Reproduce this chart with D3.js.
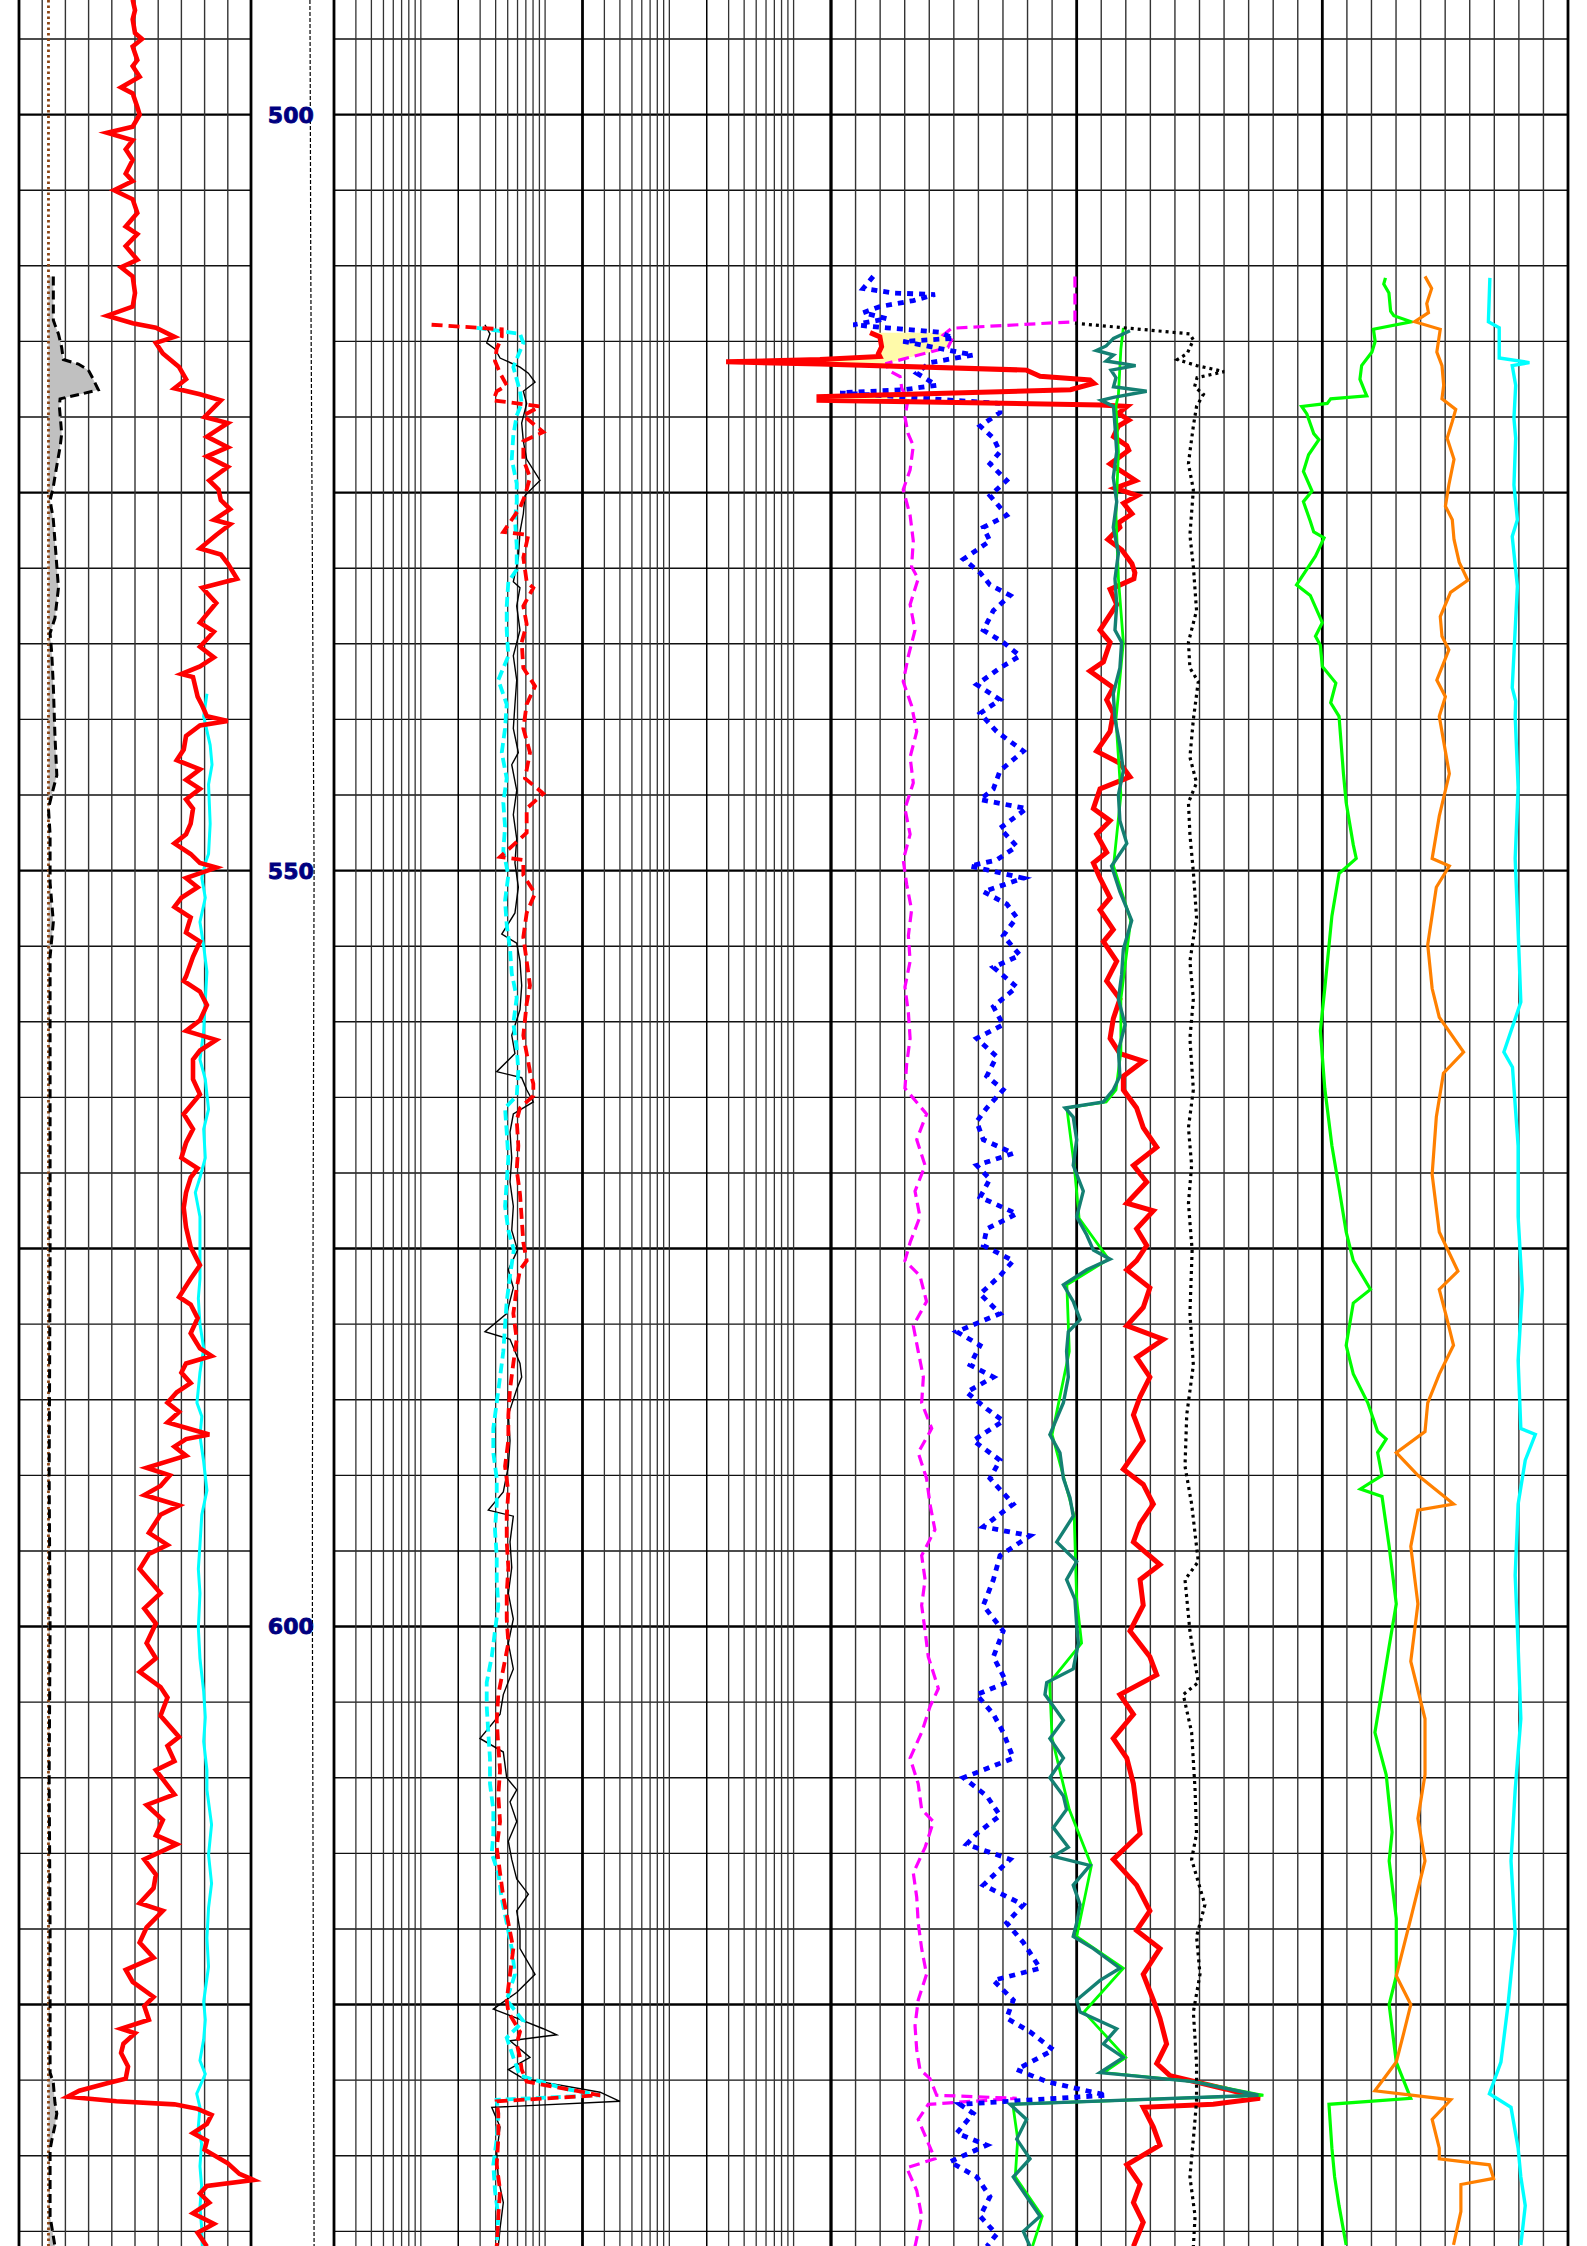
<!DOCTYPE html>
<html>
<head>
<meta charset="utf-8">
<script src="https://cdn.jsdelivr.net/npm/d3@7/dist/d3.min.js"></script>
<style>
  body { margin: 0; background: #fff; }
  svg { display: block; }
</style>
</head>
<body>
<div class="canvas"></div>
<script>
// depth window of the picture and the labelled depths
const depthRange = [492.42, 640.97];
const depthLabels = [500, 550, 600];

// track 1 : [depth, value] on 0-100
const bitCurve = [[492.42, 12.7], [640.97, 12.7]];
const calCurve = [[510.7,14.8],[513.6,14.8],[513.9,15.5],[514.5,17],[515.4,18.4],[516.2,19.1],[516.5,25.6],[516.9,29.9],[517.5,32],[518.2,34.2],[518.5,26.3],[518.8,17.7],[519.3,17.4],[521.1,18.4],[522.0,17.7],[523.3,16.2],[524.6,14.8],[525.5,13.4],[526.8,14.8],[531.3,17],[533.3,15.5],[534.3,13.4],[535.6,14.1],[537.8,14.8],[541.1,15.5],[543.7,16.3],[545.0,14.1],[545.9,12.7],[547.6,13.4],[550.8,13.4],[553.4,14.8],[555.7,13.4],[560.6,13.4],[567.1,13.4],[575.8,13.4],[590,13.0],[600,13.4],[610,13.0],[620,13.4],[624.7,13.4],[629.5,13.4],[630.2,14.8],[631.5,15.5],[632.2,16.3],[633.0,15.5],[634.0,14.1],[634.6,13.4],[639.0,13.4],[641.0,15.5]];
const grCurve = [[492.4,49],[493.1,50],[493.7,49],[494.6,50],[495.0,53],[495.5,49],[496.4,51],[496.8,49],[497.5,52],[498.2,44],[498.6,49],[499.5,51],[500.0,52],[500.8,49],[501.2,38],[501.7,49],[502.3,46],[503.0,49],[503.9,46],[504.4,49],[505.0,41],[505.6,49],[506.5,51],[507.4,46],[507.9,51],[508.7,46],[509.6,51],[510.1,44],[510.7,49],[511.8,50],[512.7,49],[513.3,38],[513.8,49],[514.1,59],[514.7,67],[515.1,59],[515.8,62],[516.7,69],[517.5,72],[518.1,67],[518.5,78],[518.9,87],[520.0,80],[520.4,90],[521.3,81],[522.0,90],[522.6,81],[523.3,90],[524.2,82],[524.8,86],[525.5,87],[526.1,91],[526.8,84],[527.1,91],[527.8,85],[528.7,78],[529.1,87],[529.7,90],[530.7,94],[531.3,79],[532.3,85],[533.6,78],[534.2,84],[535.2,78],[535.9,84],[536.5,78],[537.0,70],[537.2,75],[538.5,77],[539.1,79],[539.8,81],[540.1,90],[540.4,78],[541.1,72],[542.0,71],[542.7,68],[543.3,78],[544.0,72],[544.6,78],[545.3,72],[545.9,75],[546.9,74],[547.6,72],[548.2,67],[548.9,74],[549.5,78],[549.8,85],[550.5,72],[551.1,77],[551.8,70],[552.4,67],[553.1,74],[554.1,72],[554.7,78],[555.7,75],[557.0,72],[557.3,71],[558.0,78],[558.9,81],[559.9,78],[560.6,72],[561.2,85],[561.9,78],[562.5,75],[563.8,75],[564.8,78],[566.1,71],[567.1,75],[568.0,72],[569.0,70],[569.7,77],[570.3,74],[571.3,72],[572.3,71],[573.6,72],[574.9,74],[575.5,76],[576.1,78],[577.0,74],[578.2,69],[578.7,74],[579.6,77],[580.6,74],[581.6,78],[582.1,83],[582.6,72],[583.2,70],[583.9,74],[584.5,68],[585.2,64],[585.8,69],[586.5,64],[587.3,82],[587.6,72],[588.1,67],[588.7,72],[589.5,55],[590.0,65],[590.7,61],[591.3,54],[592.0,69],[592.6,61],[593.8,56],[594.6,64],[595.2,56],[596.2,52],[597.8,61],[598.8,54],[599.8,59],[601.1,55],[602.1,59],[603.0,52],[604.0,61],[604.7,64],[605.9,61],[607.3,69],[607.9,64],[608.9,67],[609.5,59],[610.5,64],[611.1,67],[611.8,55],[612.8,62],[613.8,59],[614.4,68],[615.4,54],[616.4,59],[617.3,58],[618.3,52],[618.8,62],[619.9,55],[620.9,52],[621.9,58],[622.7,46],[623.5,49],[624.5,58],[625.1,54],[626.0,56],[626.6,44],[626.9,50],[627.6,45],[628.2,44],[629.1,47],[629.9,46],[630.2,38],[630.7,26],[631.1,21],[631.4,42],[631.6,67],[631.9,77],[632.3,83],[632.9,81],[633.5,75],[634.0,81],[634.6,80],[635.5,90],[636.2,95],[636.6,101],[637.0,81],[637.5,78],[638.1,82],[638.8,75],[639.5,84],[640.1,77],[641.0,81]];
const cyan1Curve = [[538.3,81],[539.8,79.6],[541.7,82.4],[543.0,83.2],[544.3,81.7],[546.9,82.4],[548.9,81.7],[549.5,80.3],[550.5,78.8],[551.8,80.3],[553.4,78],[555.0,79.6],[556.7,81],[558.6,80.3],[560.6,79.6],[562.5,78],[563.8,80.3],[565.8,81.7],[567.1,79.6],[569.0,80.3],[570.3,78],[571.3,76],[572.9,78],[574.9,78],[576.1,78],[577.0,78],[578.3,77.3],[580.0,78],[581.6,79.6],[583.2,78],[585.2,76.7],[586.1,78.8],[587.4,78],[589.1,79.6],[591.0,81],[592.6,78.8],[594.6,78],[596.2,77.3],[597.8,78],[600.1,77.3],[602.1,78],[604.3,79.6],[606.0,80.3],[607.6,79.6],[609.5,81],[610.8,81],[613.1,83],[615.1,81.7],[617.0,83],[618.6,81.7],[620.6,81],[622.5,81.7],[624.8,79.6],[626.0,80.3],[627.3,79.6],[628.7,78],[629.6,80.3],[630.9,76.6],[631.8,78],[633.1,77.3],[634.2,78.7],[635.7,78],[637.0,78.7],[638.4,78],[639.7,78.7],[641.0,79]];

// depth track curve, 0-100
const tensCurve = [[492.42,71],[500,71.5],[510,72],[520,73],[530,74],[540,75],[550,76],[560,75.5],[570,75],[580,74.5],[590,74],[600,74],[610,74.5],[620,75],[630,75.5],[641,76]];

// track 2 : resistivity, log 0.2-2000
const shallowCurve = [[513.9,1.22],[514.2,4.48],[514.7,4.48],[515.5,4.08],[516.3,3.95],[517.1,4.34],[517.9,4.91],[518.3,4.08],[518.9,3.83],[519.3,9.1],[519.9,6.68],[521.0,9.67],[521.6,6.68],[522.8,6.68],[524.0,7.56],[525.2,6.89],[526.0,6.28],[527.6,4.61],[527.8,7.33],[529.3,6.68],[530.9,7.11],[531.3,8.04],[532.5,6.68],[533.7,7.11],[534.9,6.48],[536.6,6.68],[537.8,8.3],[539.0,7.11],[540.6,6.68],[542.2,7.56],[543.9,6.89],[544.9,9.67],[545.9,7.11],[547.5,7.11],[549.1,4.34],[549.3,6.68],[550.3,6.68],[551.5,8.3],[552.8,7.11],[554.4,6.68],[556.0,7.11],[557.6,7.56],[558.8,7.11],[560.9,6.68],[562.1,7.11],[563.3,7.56],[564.1,8.04],[564.9,8.04],[565.7,6.28],[566.5,5.91],[568.2,6.09],[569.8,5.91],[571.4,6.28],[573.0,6.48],[574.6,6.68],[575.8,7.11],[576.4,6.28],[577.6,5.91],[579.3,5.55],[581.0,5.91],[582.6,5.55],[584.3,5.22],[586.0,5.06],[587.7,5.06],[589.4,4.76],[591.1,5.06],[592.7,4.91],[594.4,4.91],[596.1,5.06],[597.8,4.91],[599.5,4.91],[601.1,5.06],[602.8,4.61],[604.5,4.2],[606.2,4.08],[607.9,4.2],[609.5,4.34],[611.2,4.2],[612.9,4.34],[614.6,4.08],[616.3,4.34],[617.9,4.61],[619.6,5.06],[621.3,5.55],[623.0,5.22],[624.7,4.91],[625.5,5.06],[626.8,6.28],[627.6,5.91],[628.5,6.28],[629.3,6.48],[630.1,7.11],[631.0,27.7],[631.4,4.08],[632.2,4.2],[633.9,4.2],[635.6,4.08],[637.3,4.34],[639.0,4.2],[641.0,4.08]];
const mediumCurve = [[514.1,2.81],[514.5,6.28],[515.1,6.68],[515.9,6.09],[516.7,5.55],[517.5,5.91],[518.3,6.28],[519.1,6.48],[519.9,5.91],[521.2,5.55],[522.8,5.39],[524.4,5.91],[525.6,5.91],[526.8,5.72],[528.5,5.91],[530.1,5.91],[530.9,5.06],[532.5,4.91],[534.1,4.91],[535.8,5.06],[537.4,4.2],[539.0,4.91],[540.6,4.76],[542.2,4.48],[543.9,4.91],[545.5,4.61],[547.1,4.76],[548.7,4.61],[550.3,5.06],[552.0,4.76],[553.6,4.91],[555.2,5.22],[556.8,5.39],[558.4,5.91],[560.1,5.55],[561.7,5.91],[563.3,6.09],[564.9,5.91],[565.7,4.76],[567.3,4.91],[569.0,5.06],[570.6,4.91],[572.2,4.76],[573.8,5.06],[575.1,5.6],[576.8,5.22],[578.5,4.91],[580.1,4.76],[581.8,4.61],[583.5,4.34],[585.2,4.08],[586.9,3.83],[588.5,3.83],[590.2,4.08],[591.9,4.08],[593.6,3.95],[595.3,4.08],[596.9,4.08],[598.6,4.2],[600.3,3.95],[602.0,3.72],[603.7,3.39],[605.3,3.39],[607.0,3.49],[608.7,3.6],[610.4,3.6],[612.1,3.83],[613.7,3.83],[615.0,3.72],[616.3,4.2],[618.0,4.48],[619.6,4.91],[621.3,5.39],[623.0,5.72],[624.7,4.91],[626.1,6.68],[627.2,4.91],[628.5,5.55],[629.7,6.28],[630.6,14.9],[631.0,27.7],[631.3,4.08],[632.2,4.2],[633.9,4.08],[635.6,3.83],[637.3,3.95],[639.0,4.2],[641.0,4.08]];
const deepCurve = [[513.9,3.28],[514.5,3.6],[515.1,3.39],[515.5,3.95],[516.1,4.34],[516.7,6.28],[517.1,7.33],[517.7,8.3],[518.3,6.68],[519.1,7.11],[520.4,6.48],[521.6,6.68],[522.8,7.11],[524.2,9.1],[525.2,6.89],[526.4,6.68],[527.6,6.28],[529.3,6.09],[530.9,5.55],[531.3,6.28],[532.5,5.91],[534.1,6.28],[535.8,5.55],[537.4,5.91],[539.0,5.72],[540.6,5.55],[542.2,6.09],[543.0,5.39],[544.7,5.91],[546.3,5.55],[547.9,5.91],[549.5,5.72],[551.1,6.09],[552.8,5.72],[554.2,4.48],[554.8,5.91],[556.0,6.28],[557.6,6.48],[559.2,6.28],[560.9,5.39],[562.1,5.72],[563.3,4.08],[563.7,6.48],[564.5,7.11],[565.3,8.04],[566.1,5.55],[567.3,5.22],[569.0,5.39],[570.6,5.22],[572.2,5.55],[573.8,5.39],[575.1,6.0],[576.4,5.06],[577.6,5.55],[579.3,4.91],[580.5,3.28],[581.0,5.22],[582.6,6.28],[583.5,6.48],[584.3,5.91],[586.0,5.06],[587.7,5.22],[589.4,5.06],[591.1,4.61],[592.3,3.49],[592.7,5.55],[594.4,5.22],[596.1,5.39],[597.8,5.06],[599.5,5.55],[601.1,5.06],[602.8,5.55],[604.5,4.61],[605.8,4.34],[607.4,2.99],[608.3,4.61],[610.0,4.91],[610.8,5.91],[611.6,5.22],[612.9,5.91],[614.2,5.06],[615.4,5.39],[616.7,5.91],[617.7,7.33],[618.8,5.91],[620.1,6.28],[621.3,6.28],[623.0,8.3],[624.2,5.91],[625.3,3.83],[625.9,5.91],[626.6,9.67],[627.0,12.4],[627.4,5.22],[628.5,7.56],[629.3,5.06],[629.9,6.68],[630.8,27.7],[631.4,40],[631.8,3.72],[633.1,4.34],[634.8,4.08],[636.5,4.2],[638.1,4.61],[639.8,4.34],[641.0,4.2]];

// track 3 : linear 0-30 (one unit per grid division)
const neutronCurve = [[510.7,9.93],[513.7,9.93],[514.13,4.91],[514.58,4.57],[514.9,4.91],[515.4,4.76],[516.45,2.27],[516.9,2.32],[517.33,2.81],[518.1,2.88],[518.9,3.13],[520.0,3.01],[521.06,3.13],[521.9,3.35],[523.5,3.22],[524.8,2.94],[526.5,3.22],[528.2,3.35],[529.9,3.28],[530.7,3.55],[532.4,3.22],[534.1,3.42],[535.8,3.15],[537.5,2.94],[539.1,3.28],[540.8,3.49],[542.5,3.22],[544.2,3.35],[545.9,3.01],[547.6,3.22],[549.3,2.94],[550.9,3.08],[552.6,3.28],[554.3,3.15],[556.0,3.22],[557.7,3.01],[559.4,3.15],[561.1,3.22],[562.8,3.08],[564.4,3.01],[566.1,3.89],[567.8,3.49],[569.5,3.83],[571.2,3.42],[572.9,3.62],[574.6,3.22],[575.8,3.01],[576.8,3.62],[578.5,3.89],[580.1,3.35],[581.8,3.55],[583.5,3.76],[585.2,3.69],[586.9,4.1],[588.5,3.55],[590.2,3.89],[591.9,4.03],[593.6,4.23],[595.3,3.69],[596.9,3.83],[598.6,3.69],[600.3,3.83],[602.0,3.96],[604.1,4.37],[605.3,4.03],[607.0,3.69],[608.7,3.22],[610.4,3.55],[612.1,3.69],[612.9,4.17],[614.6,3.83],[616.3,3.35],[617.9,3.49],[619.6,3.55],[621.3,3.69],[623.0,3.89],[624.7,3.55],[626.4,3.42],[628.0,3.49],[629.3,3.62],[629.9,4.03],[631.0,4.3],[631.2,7.56],[631.6,3.96],[632.6,3.55],[633.9,3.89],[635.2,4.23],[635.8,3.08],[637.3,3.49],[639.0,3.69],[641.0,3.42]];
const sonicCurve = [[510.7,1.72],[511.5,1.31],[511.8,2.54],[511.9,4.23],[512.3,3.35],[512.7,1.99],[513.1,1.31],[513.5,2.27],[513.9,0.91],[514.1,2.27],[514.4,4.44],[514.8,4.98],[515.0,2.94],[515.9,5.79],[516.4,4.03],[517.1,3.49],[517.9,4.3],[518.2,2.94],[518.4,0.37],[519.1,6.88],[519.7,6.88],[520.6,6.07],[521.4,6.61],[522.3,6.88],[523.1,6.47],[524.2,7.15],[525.2,6.47],[526.5,7.15],[527.3,6.2],[528.2,6.47],[529.4,5.39],[530.3,6.07],[531.1,6.47],[531.8,7.29],[532.8,6.61],[534.1,6.2],[534.9,7.01],[535.8,7.69],[536.6,6.88],[537.7,5.93],[538.7,6.88],[539.6,6.07],[540.8,6.74],[542.1,7.83],[543.4,6.88],[544.6,6.61],[545.3,6.07],[545.9,7.96],[547.2,6.88],[548.4,7.56],[549.3,6.74],[549.7,5.66],[550.5,7.83],[551.4,6.2],[552.2,7.15],[553.1,7.56],[554.3,7.01],[555.6,7.69],[556.4,6.61],[557.7,7.56],[559.0,6.61],[560.2,7.01],[561.1,5.93],[562.3,6.74],[563.6,6.34],[564.5,7.01],[565.7,6.34],[566.6,5.93],[567.8,6.2],[568.7,7.42],[569.5,5.93],[570.4,6.47],[571.6,6.07],[572.7,7.56],[573.7,6.34],[574.8,6.2],[575.8,7.42],[576.8,6.88],[578.0,6.07],[579.3,6.88],[580.5,5.12],[581.4,6.07],[582.7,5.66],[583.5,6.61],[584.5,5.52],[585.6,6.34],[586.4,7.01],[587.7,5.79],[589.0,6.88],[590.2,6.47],[591.9,7.42],[593.4,6.2],[594.0,8.1],[595.3,6.88],[596.9,6.61],[598.6,6.2],[600.3,7.01],[602.0,6.61],[603.7,7.15],[604.5,5.93],[605.8,6.61],[607.0,7.01],[608.7,7.42],[610.0,5.39],[611.2,6.34],[612.5,6.88],[613.7,5.93],[614.4,5.52],[615.4,7.29],[617.1,6.2],[618.4,7.83],[619.6,7.15],[620.9,7.83],[622.6,8.51],[623.4,6.61],[624.7,7.42],[625.9,7.15],[626.8,8.1],[628.0,9.05],[629.3,7.56],[630.1,8.78],[631.0,11.22],[631.6,5.25],[632.2,5.79],[633.5,5.12],[634.3,6.34],[635.4,4.84],[636.4,5.93],[637.7,6.47],[639.0,6.07],[640.2,6.74],[641.0,6.34]];
const densityCurve = [[514.42,1.59],[514.7,1.99],[515.35,2.06],[515.8,1.93],[516.0,1.99],[516.2,-0.45],[516.35,-4.27],[516.5,-0.45],[516.9,7.96],[517.3,8.51],[517.55,10.54],[517.77,10.7],[518.2,9.75],[518.66,-0.49],[518.9,-0.49],[519.2,10.99],[519.3,12.05],[519.75,11.7],[520.2,12.12],[520.6,11.7],[521.3,11.5],[521.9,12.04],[522.2,12.12],[523.1,11.36],[524.2,12.4],[524.7,11.56],[525.2,12.47],[525.7,11.91],[526.4,12.25],[527.0,11.7],[527.3,11.76],[528.1,11.27],[528.8,11.84],[529.7,12.25],[530.3,12.37],[530.7,12.33],[531.4,11.36],[532.4,11.63],[534.1,10.95],[534.9,11.36],[536.2,11.09],[536.8,10.54],[537.9,11.49],[538.7,11.22],[539.6,11.49],[540.8,11.36],[542.1,10.81],[542.9,11.76],[543.8,12.17],[544.6,10.95],[545.9,10.68],[546.7,11.36],[547.6,10.81],[548.8,11.22],[549.5,10.68],[550.5,10.95],[551.8,11.36],[552.6,10.95],[553.9,11.49],[554.7,11.09],[556.0,11.63],[557.3,11.22],[558.5,11.76],[559.8,11.49],[561.1,11.36],[562.1,11.76],[562.6,12.71],[563.6,11.9],[564.5,11.9],[565.7,12.44],[567.0,12.71],[568.3,13.26],[569.5,12.31],[570.6,12.85],[572.0,12.04],[572.5,13.12],[573.7,12.44],[574.8,12.85],[575.8,12.44],[576.4,12.04],[577.6,12.98],[578.9,12.71],[580.1,12.04],[581.0,13.53],[582.2,12.44],[583.5,12.98],[584.8,12.58],[586.0,12.31],[587.7,12.71],[589.6,11.9],[590.6,12.71],[591.9,13.12],[593.2,12.58],[594.4,12.31],[595.9,13.39],[596.9,12.58],[598.6,12.71],[600.3,12.17],[602.0,12.98],[603.2,13.26],[604.5,11.76],[605.8,12.31],[607.4,11.49],[608.7,12.04],[610.4,12.31],[612.1,12.44],[613.7,12.58],[615.4,11.49],[617.1,12.44],[618.8,12.98],[620.1,12.44],[621.3,13.39],[623.0,12.71],[624.7,13.12],[625.9,13.39],[627.6,13.66],[628.9,13.26],[629.7,13.8],[630.6,16.1],[631.2,17.46],[631.6,15.56],[631.8,12.71],[633.1,13.12],[634.3,13.39],[635.6,12.04],[636.9,12.58],[638.1,12.31],[639.4,12.71],[641.0,12.31]];
const pefCurve = [[514.1,11.9],[515.5,11.8],[517.0,11.75],[518.5,11.7],[519.3,11.6],[522.3,11.7],[526.5,11.6],[530.7,11.7],[534.9,11.9],[540.0,11.6],[545.0,11.8],[549.7,11.5],[553.3,12.2],[558.5,11.8],[562.0,11.8],[564.5,11.6],[565.3,11.2],[565.7,9.6],[569.5,9.9],[573.0,10.1],[575.7,11.3],[577.4,9.6],[581.8,9.7],[587.3,9.0],[592.7,9.9],[598.2,10.0],[601.1,10.2],[603.7,8.9],[607.4,9.0],[612.1,9.7],[615.8,10.6],[620.5,10.0],[622.6,11.9],[625.5,10.3],[628.5,12.0],[629.5,11.1],[630.1,14.8],[631.0,17.6],[631.6,7.4],[633.9,7.6],[636.4,7.5],[639.0,8.6],[641.0,8.2]];
const corrCurve = [[514.3,12.17],[514.8,11.5],[515.3,11.2],[515.6,10.8],[515.9,11.5],[516.3,11.2],[516.6,12.4],[516.9,11.4],[517.4,11.6],[518.0,11.5],[518.3,12.85],[518.7,11.5],[518.9,11.0],[519.3,11.5],[520.6,11.56],[522.3,11.63],[524.0,11.49],[525.6,11.63],[527.3,11.49],[529.0,11.7],[530.7,11.56],[532.4,11.63],[534.1,11.56],[534.9,11.83],[536.6,11.76],[538.3,11.49],[540.0,11.56],[541.7,11.76],[543.4,11.9],[545.0,11.7],[546.7,11.76],[548.2,12.04],[549.7,11.42],[551.4,11.76],[553.3,12.24],[555.2,11.9],[556.9,11.83],[558.5,11.7],[560.2,11.97],[561.9,11.7],[563.6,11.76],[564.5,11.49],[565.3,11.09],[565.7,9.53],[566.3,9.86],[567.8,10.0],[569.5,9.86],[571.2,10.27],[572.9,10.0],[574.1,10.41],[575.1,10.68],[575.7,11.36],[576.4,10.41],[577.4,9.46],[578.5,9.86],[579.7,10.14],[580.5,9.66],[581.8,9.59],[583.5,9.66],[585.2,9.46],[587.3,8.91],[588.5,9.32],[590.2,9.46],[591.5,9.73],[592.7,9.86],[594.4,9.19],[595.7,10.0],[596.9,9.59],[598.2,9.93],[599.9,10.0],[601.1,10.07],[602.8,9.86],[603.7,8.78],[604.5,8.71],[606.2,9.46],[607.4,8.91],[608.7,9.46],[610.0,8.91],[611.2,9.46],[612.1,9.59],[613.3,9.05],[614.6,9.66],[615.2,9.05],[615.8,10.54],[617.1,9.86],[618.4,10.14],[619.6,10.0],[620.5,9.86],[621.3,10.68],[622.6,11.76],[623.4,10.95],[624.7,10.0],[625.5,10.14],[626.6,11.63],[627.6,11.09],[628.5,11.9],[629.5,10.95],[630.1,14.75],[631.0,17.4],[631.6,7.29],[632.6,7.96],[633.9,7.56],[635.2,8.1],[636.4,7.42],[637.7,7.96],[639.0,8.51],[640.0,7.83],[641.0,8.1]];
const tempCurve = [[513.8,9.93],[514.5,14.6],[514.9,14.75],[515.8,14.5],[516.2,14.1],[516.6,14.88],[517.0,16.0],[517.4,14.9],[518.0,14.8],[518.5,15.16],[519.3,14.88],[520.6,14.75],[522.3,14.61],[523.1,14.55],[524.8,14.75],[527.8,14.61],[529.9,14.75],[532.8,14.88],[534.9,14.55],[536.6,14.61],[537.5,14.95],[540.0,14.75],[542.5,14.61],[544.2,14.88],[545.5,14.55],[547.6,14.61],[550.1,14.75],[553.1,14.88],[556.0,14.61],[558.5,14.75],[561.1,14.61],[564.5,14.75],[567.0,14.55],[569.5,14.68],[572.0,14.55],[575.1,14.7],[579.3,14.61],[582.7,14.75],[586.0,14.48],[589.4,14.41],[591.9,14.68],[595.7,14.95],[596.9,14.41],[600.3,14.61],[603.7,14.95],[604.5,14.34],[607.0,14.68],[610.8,14.82],[613.7,14.88],[615.4,14.68],[618.4,15.22],[620.5,14.88],[623.0,15.02],[625.5,14.75],[628.9,14.88],[631.4,14.88],[633.9,14.75],[636.4,14.61],[639.0,14.82],[641.0,14.75]];
const greenCurve = [[510.8,22.57],[511.2,22.5],[511.8,22.71],[513.0,22.78],[513.3,22.91],[513.7,23.62],[514.2,22.08],[515.0,22.15],[515.7,22.02],[516.6,21.6],[517.5,21.53],[518.3,21.73],[518.6,21.81],[518.8,20.34],[519.1,20.2],[519.3,19.16],[519.8,19.37],[521.1,19.65],[521.5,19.86],[522.5,19.44],[523.6,19.23],[524.9,19.58],[525.6,19.23],[526.9,19.51],[527.6,19.65],[528.0,20.07],[529.2,19.72],[531.1,18.95],[531.8,19.51],[533.6,20.0],[534.5,19.72],[535.1,19.92],[536.5,20.0],[537.6,20.55],[538.9,20.34],[539.8,20.68],[543.6,20.86],[545.5,20.97],[548.3,21.26],[549.2,21.38],[550.2,20.68],[553.0,20.39],[557.8,20.1],[560.6,19.92],[564.4,20.1],[568.2,20.39],[571.0,20.68],[573.9,20.97],[575.8,21.26],[577.7,21.96],[578.6,21.26],[581.4,20.97],[583.3,21.26],[585.2,21.85],[587.1,22.25],[587.6,22.6],[588.5,22.25],[590.0,22.43],[590.9,21.55],[591.4,22.43],[594.7,22.72],[598.5,23.01],[601.3,22.72],[604.2,22.43],[607.0,22.14],[609.8,22.6],[613.6,22.84],[615.5,22.72],[619.3,23.01],[623.1,23.01],[625.0,22.72],[628.8,23.01],[631.2,23.6],[631.6,20.27],[634.5,20.39],[636.4,20.5],[638.3,20.68],[640.9,20.97]];
const orangeCurve = [[510.7,24.18],[511.5,24.45],[512.5,24.25],[513.1,24.32],[513.7,23.76],[514.2,24.8],[515.7,24.66],[516.6,24.87],[517.9,24.94],[518.8,24.87],[519.5,25.43],[520.3,25.29],[521.4,25.08],[522.8,25.36],[524.5,25.15],[525.9,25.01],[526.8,25.29],[528.1,25.36],[529.6,25.57],[530.8,25.92],[531.6,25.22],[533.2,24.8],[534.5,24.87],[535.4,25.15],[537.4,24.66],[538.5,25.01],[539.8,24.76],[543.6,25.17],[546.4,24.76],[549.2,24.47],[549.7,25.17],[551.1,24.64],[554.9,24.29],[557.8,24.47],[559.7,24.76],[562.0,25.75],[563.4,24.93],[566.3,24.64],[570.1,24.47],[573.9,24.76],[576.5,25.52],[577.7,24.76],[579.5,25.05],[581.4,25.34],[583.3,24.76],[585.2,24.29],[587.1,24.18],[588.5,23.01],[590.0,23.89],[591.9,25.34],[592.3,23.89],[594.7,23.6],[598.5,23.89],[602.3,23.6],[606.1,24.18],[609.8,24.18],[612.7,23.89],[615.5,24.18],[619.3,23.6],[623.1,23.01],[625.0,23.6],[626.9,23.31],[628.8,23.01],[630.7,22.14],[631.3,25.23],[632.6,24.47],[634.5,24.76],[635.2,24.76],[635.6,26.8],[636.5,26.97],[636.9,25.64],[638.7,25.64],[640.9,25.34]];
const cyan3Curve = [[510.8,26.82],[513.7,26.76],[514.1,27.2],[516.1,27.2],[516.4,28.43],[516.6,27.73],[517.9,27.87],[520.1,27.8],[521.4,27.87],[524.5,27.8],[526.8,27.94],[527.9,27.73],[531.2,27.94],[533.4,27.87],[537.9,27.73],[538.8,27.87],[539.8,27.85],[544.5,27.97],[549.2,27.85],[554.0,27.97],[558.7,28.08],[562.0,27.39],[563.0,27.74],[568.2,27.97],[572.9,27.97],[577.7,28.14],[582.4,27.97],[586.9,28.08],[587.3,28.67],[589.0,28.26],[591.9,27.97],[596.6,27.85],[601.3,27.97],[606.1,28.08],[610.8,27.85],[615.5,27.68],[620.3,27.85],[625.0,27.56],[628.8,27.27],[630.9,26.8],[631.8,27.68],[634.5,27.97],[636.4,28.08],[638.3,28.26],[640.9,28.08]];

const dims = { width: 1587, height: 2246 };

const svg = d3
  .select(".canvas")
  .append("svg")
  .attr("width", dims.width)
  .attr("height", dims.height);

// scales
const y = d3.scaleLinear().domain(depthRange).range([0, dims.height]);
const x1 = d3.scaleLinear().domain([0, 100]).range([19, 251]);
const xd = d3.scaleLinear().domain([0, 100]).range([251, 334]);
const x2 = d3.scaleLog().domain([0.2, 2000]).range([334, 831]);
const x3 = d3.scaleLinear().domain([0, 30]).range([831, 1568]);

const grid = svg.append("g");

//horizontal lines every 5, heavy every 25
const hLines = d3.range(495, 641, 5);
[x1.range(), [x2.range()[0], x3.range()[1]]].forEach(([a, b]) => {
  grid
    .selectAll(null)
    .data(hLines)
    .enter()
    .append("line")
    .attr("x1", a)
    .attr("x2", b)
    .attr("y1", (d) => y(d))
    .attr("y2", (d) => y(d))
    .attr("stroke", (d) => (d % 25 === 0 ? "#000" : "#111"))
    .attr("stroke-width", (d) => (d % 25 === 0 ? 2.4 : 1.4));
});

// vertical lines
const vLine = (xs, weight) => {
  grid
    .selectAll(null)
    .data(xs)
    .enter()
    .append("line")
    .attr("x1", (d) => d)
    .attr("x2", (d) => d)
    .attr("y1", 0)
    .attr("y2", dims.height)
    .attr("stroke", (d, i) => weight(d, i).c)
    .attr("stroke-width", (d, i) => weight(d, i).w);
};

vLine(x1.ticks(10).map(x1), (d, i) =>
  i === 0 || i === 10 ? { c: "#000", w: 2.8 } : { c: "#333", w: 1.4 }
);

// log grid: 0.3 .. 1.0 style lines in each decade
const logTicks = [];
[0, 1, 2, 3].forEach((k) => {
  const base = 0.2 * Math.pow(10, k);
  [1, 1.5, 2, 2.5, 3, 3.5, 4, 4.5, 5].forEach((m) => logTicks.push(base * m));
});
logTicks.push(2000);
vLine(logTicks.map(x2), (d, i) => {
  const v = logTicks[i];
  if (Math.abs(Math.log10(v / 0.2) % 2) < 1e-6) return { c: "#000", w: 2.8 };
  if (Math.abs(Math.log10(v / 0.2) % 1) < 1e-6) return { c: "#000", w: 1.5 };
  return { c: "#333", w: 1.3 };
});

vLine(d3.range(0, 31).map(x3), (d, i) =>
  i % 10 === 0 ? { c: "#000", w: 2.8 } : { c: "#333", w: 1.4 }
);

//crossover fill: region left of `right` clipped to region right of `left`
const crossFill = (left, ls, right, rs, colour, id, xMin, xMax) => {
  svg
    .append("clipPath")
    .attr("id", id)
    .append("path")
    .attr(
      "d",
      d3.area().y((d) => y(d[0])).x0((d) => ls(d[1])).x1(xMax)(left)
    );
  svg
    .append("path")
    .attr(
      "d",
      d3.area().y((d) => y(d[0])).x0(xMin).x1((d) => rs(d[1]))(right)
    )
    .attr("fill", colour)
    .attr("clip-path", `url(#${id})`);
};

crossFill(bitCurve, x1, calCurve, x1, "#c0c0c0", "fillCal", 19, 251);
crossFill(densityCurve, x3, neutronCurve, x3, "#fffaaa", "fillGas", 334, 1568);

const drawCurve = (data, scale, colour, width, dash) => {
  svg
    .append("path")
    .datum(data)
    .attr("fill", "none")
    .attr("stroke", colour)
    .attr("stroke-width", width)
    .attr("stroke-dasharray", dash || null)
    .attr("stroke-linejoin", "miter")
    .attr(
      "d",
      d3
        .line()
        .x((d) => scale(d[1]))
        .y((d) => y(d[0]))
    );
};

// track 1
drawCurve(bitCurve, x1, "#8b4513", 2.8, "2.5,3");
drawCurve(calCurve, x1, "#000", 3, "9,5");
drawCurve(cyan1Curve, x1, "#00ffff", 3);
drawCurve(grCurve, x1, "#ff0000", 4.6);

// depth track
drawCurve(tensCurve, xd, "#000", 1.2, "4,2");

// track 2
drawCurve(deepCurve, x2, "#000", 1.4);
drawCurve(mediumCurve, x2, "#00ffff", 3.8, "10,5");
drawCurve(shallowCurve, x2, "#ff0000", 3.8, "11,6");

// track 3
drawCurve(neutronCurve, x3, "#ff00ff", 3.2, "11,6");
drawCurve(sonicCurve, x3, "#0000ff", 4.8, "6,6");
drawCurve(densityCurve, x3, "#ff0000", 5);
drawCurve(pefCurve, x3, "#00ff00", 2.8);
drawCurve(corrCurve, x3, "#148073", 3.4);
drawCurve(tempCurve, x3, "#000", 3.2, "3,4");
drawCurve(greenCurve, x3, "#00ff00", 3.2);
drawCurve(orangeCurve, x3, "#ff8000", 3.2);
drawCurve(cyan3Curve, x3, "#00ffff", 3.4);

//depth labels
svg
  .append("g")
  .selectAll("text")
  .data(depthLabels)
  .enter()
  .append("text")
  .attr("x", xd(48))
  .attr("y", (d) => y(d))
  .attr("dy", "0.36em")
  .attr("text-anchor", "middle")
  .attr("font-family", "DejaVu Sans, Verdana, sans-serif")
  .attr("font-weight", "bold")
  .attr("font-size", 22)
  .attr("fill", "#000080")
  .attr("stroke", "#000080")
  .attr("stroke-width", 0.8)
  .text((d) => d);
</script>
</body>
</html>
